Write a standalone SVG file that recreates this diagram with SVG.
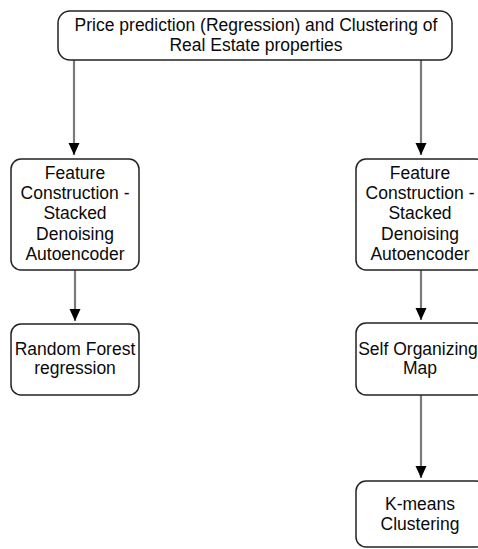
<svg xmlns="http://www.w3.org/2000/svg" width="478" height="549" viewBox="0 0 478 549">
<style>
.box{fill:#fff;stroke:#222;stroke-width:1.5}
.lbl{font-family:"Liberation Sans",Arial,sans-serif;font-size:17.5px;fill:#0a0a0a;text-anchor:middle}
.edge{stroke:#7a7a7a;stroke-width:2.2;fill:none}
</style>
<defs>
<marker id="arr" markerUnits="userSpaceOnUse" markerWidth="12" markerHeight="12" refX="12" refY="5.5" orient="auto" viewBox="0 0 12 11">
<path d="M0,0 L12,5.5 L0,11 Z" fill="#000"/>
</marker>
</defs>
<rect width="478" height="549" fill="#fff"/>
<g id="connectors">
<line class="edge" x1="74" y1="60" x2="74" y2="155" marker-end="url(#arr)"/>
<line class="edge" x1="421" y1="60" x2="421" y2="155" marker-end="url(#arr)"/>
<line class="edge" x1="75" y1="270" x2="75" y2="321" marker-end="url(#arr)"/>
<line class="edge" x1="421" y1="270" x2="421" y2="320" marker-end="url(#arr)"/>
<line class="edge" x1="421" y1="395" x2="421" y2="478" marker-end="url(#arr)"/>
</g>
<g id="top">
<rect class="box" x="58" y="11" width="394" height="49" rx="12"/>
<text class="lbl" x="256" y="31">Price prediction (Regression) and Clustering of</text>
<text class="lbl" x="256" y="50.5">Real Estate properties</text>
</g>
<g id="fc-left">
<rect class="box" x="11" y="159" width="128" height="111" rx="10"/>
<text class="lbl" x="75" y="178.5">Feature</text>
<text class="lbl" x="75" y="199">Construction -</text>
<text class="lbl" x="75" y="219.3">Stacked</text>
<text class="lbl" x="75" y="239.7">Denoising</text>
<text class="lbl" x="75" y="260">Autoencoder</text>
</g>
<g id="fc-right">
<rect class="box" x="356" y="159" width="130" height="111" rx="10"/>
<text class="lbl" x="420" y="178.5">Feature</text>
<text class="lbl" x="420" y="199">Construction -</text>
<text class="lbl" x="420" y="219.3">Stacked</text>
<text class="lbl" x="420" y="239.7">Denoising</text>
<text class="lbl" x="420" y="260">Autoencoder</text>
</g>
<g id="rf">
<rect class="box" x="11" y="324" width="128" height="71" rx="10"/>
<text class="lbl" x="75" y="355">Random Forest</text>
<text class="lbl" x="75" y="374">regression</text>
</g>
<g id="som">
<rect class="box" x="356" y="323" width="130" height="72" rx="10"/>
<text class="lbl" x="418" y="355">Self Organizing</text>
<text class="lbl" x="420" y="374">Map</text>
</g>
<g id="kmeans">
<rect class="box" x="356" y="481" width="130" height="66" rx="10"/>
<text class="lbl" x="420" y="510">K-means</text>
<text class="lbl" x="420" y="530">Clustering</text>
</g>
</svg>
